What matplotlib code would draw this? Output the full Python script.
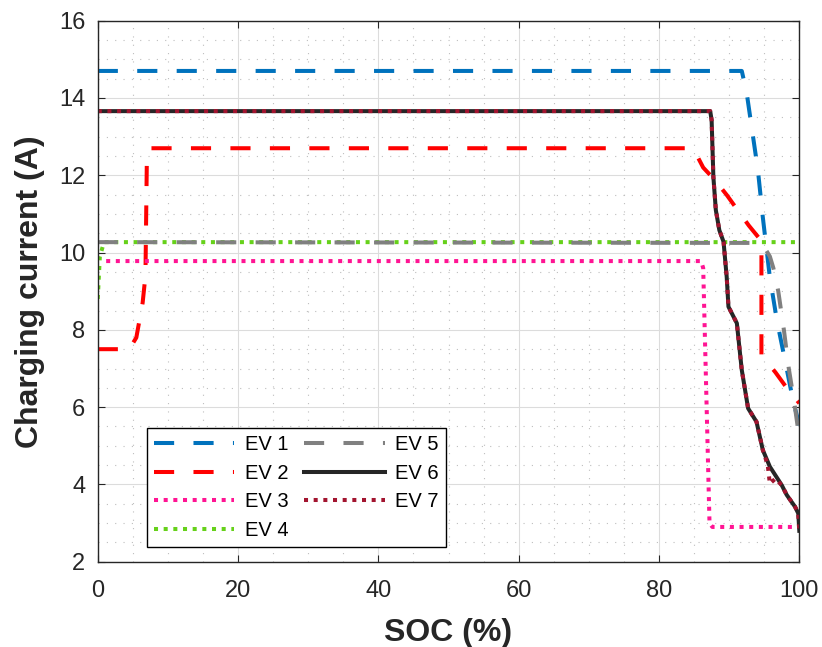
import numpy as np
import matplotlib as mpl
mpl.use("Agg")
import matplotlib.pyplot as plt
from matplotlib.ticker import MultipleLocator

# ---------------- data ----------------
ev1_soc = [0, 91.8, 92.5, 94.1, 94.8, 95.8, 96.8, 97.95, 99.1, 100]
ev1_cur = [14.7, 14.7, 14.13, 12.13, 10.91, 9.36, 8.25, 7.22, 6.18, 5.53]

ev2_soc = [0, 4.5, 5.5, 6.4, 6.8, 7.0, 7.5, 84.7, 85.3, 86.3, 88.0, 89.7, 91.4, 92.8, 94.6, 94.6, 96.6, 98.2, 100]
ev2_cur = [7.5, 7.5, 7.8, 8.7, 9.4, 12.4, 12.7, 12.7, 12.55, 12.2, 11.87, 11.48, 11.05, 10.7, 10.3, 7.35, 6.9, 6.5, 6.1]

ev3_soc = [1.2, 86.0, 86.3, 87.2, 87.6, 100]
ev3_cur = [9.78, 9.78, 9.6, 3.0, 2.9, 2.9]

ev4_soc = [0, 0.3, 0.9, 100]
ev4_cur = [8.8, 9.9, 10.27, 10.27]

ev5_soc = [0, 93.0, 95.2, 95.8, 96.3, 97.0, 97.8, 98.5, 99.3, 100]
ev5_cur = [10.27, 10.25, 10.08, 9.9, 9.6, 9.0, 8.0, 7.0, 6.1, 5.2]

ev6_soc = [0, 87.3, 87.5, 87.75, 88.1, 88.6, 89.2, 89.65, 89.9, 91.1, 91.45, 91.8, 92.7, 93.9, 94.8, 95.8, 97.5, 98.2, 99.4, 99.85, 100]
ev6_cur = [13.66, 13.66, 13.43, 11.96, 11.1, 10.58, 10.28, 9.37, 8.6, 8.17, 7.56, 6.96, 5.97, 5.62, 4.89, 4.46, 3.98, 3.73, 3.42, 3.25, 2.8]

ev7_soc = [0, 87.3, 87.5, 87.75, 88.1, 88.6, 89.2, 89.65, 89.9, 91.1, 91.45, 91.8, 92.7, 93.9, 94.8, 95.5, 95.8, 96.6, 97.5, 98.2, 99.4, 99.85, 100]
ev7_cur = [13.66, 13.66, 13.43, 11.96, 11.1, 10.58, 10.28, 9.37, 8.6, 8.17, 7.56, 6.96, 5.97, 5.62, 4.89, 4.5, 4.02, 4.15, 3.98, 3.73, 3.42, 3.25, 2.75]

labels = ['EV 1', 'EV 2', 'EV 3', 'EV 4', 'EV 5', 'EV 6', 'EV 7']
colors = ['#0072BD', '#FF0000', '#FF1493', '#66D11A', '#808080', '#262626', '#A2142F']

xticks = [0, 20, 40, 60, 80, 100]
yticks = [2, 4, 6, 8, 10, 12, 14, 16]


def formatplot(ax):
	ax.set_xlim([0, 100])
	ax.set_ylim([2, 16])
	ax.set_xticks(xticks)
	ax.set_yticks(yticks)
	ax.xaxis.set_minor_locator(MultipleLocator(5))
	ax.yaxis.set_minor_locator(MultipleLocator(0.5))

	ax.grid(which='major', color='#DCDCDC', linestyle='-', linewidth=0.8)
	ax.grid(which='minor', color='#BEBEBE', linestyle=(0, (1, 6.5)), linewidth=0.8)
	ax.set_axisbelow(True)

	for s in ['bottom', 'top', 'left', 'right']:
		ax.spines[s].set_linewidth(1.0)
		ax.spines[s].set_color('#262626')

	ax.tick_params(which='major', direction='in', length=5, width=0.8, colors='#262626',
		top=True, right=True, labelsize=17)
	ax.tick_params(axis='y', which='major', pad=9)
	ax.tick_params(axis='x', which='major', pad=13)
	ax.tick_params(which='minor', length=0)

	ax.set_xlabel('SOC (%)', fontsize=23, fontweight='bold', color='#262626', labelpad=12)
	ax.set_ylabel('Charging current (A)', fontsize=23, fontweight='bold', color='#262626', labelpad=10)


plt.rc('font', family='Liberation Sans')
fig = plt.figure(figsize=(8.22, 6.47), dpi=100)
ax = fig.add_axes([0.1189, 0.1318, 0.8535, 0.8362])

lw = 2.9
dash = (0, (5, 4.8))
dot = (0, (1, 1.4))

ax.plot(ev1_soc, ev1_cur, color=colors[0], lw=lw, linestyle=dash, label=labels[0])
ax.plot(ev2_soc, ev2_cur, color=colors[1], lw=lw, linestyle=dash, label=labels[1])
ax.plot(ev3_soc, ev3_cur, color=colors[2], lw=lw, linestyle=dot, label=labels[2])
ax.plot(ev4_soc, ev4_cur, color=colors[3], lw=lw, linestyle=dot, label=labels[3])
ax.plot(ev5_soc, ev5_cur, color=colors[4], lw=lw, linestyle=dash, label=labels[4])
ax.plot(ev6_soc, ev6_cur, color=colors[5], lw=lw, linestyle='-', label=labels[5])
ax.plot(ev7_soc, ev7_cur, color=colors[6], lw=lw, linestyle=dot, label=labels[6])

formatplot(ax)

leg = ax.legend(loc='lower left', bbox_to_anchor=(0.07, 0.027), borderaxespad=0, ncol=2,
	fontsize=14.5, handlelength=4, labelspacing=0.48, columnspacing=0.8, handletextpad=0.5,
	borderpad=0.35, fancybox=False, framealpha=1, edgecolor='#000000')
leg.get_frame().set_linewidth(1.0)

plt.savefig('out.png', dpi=100)
